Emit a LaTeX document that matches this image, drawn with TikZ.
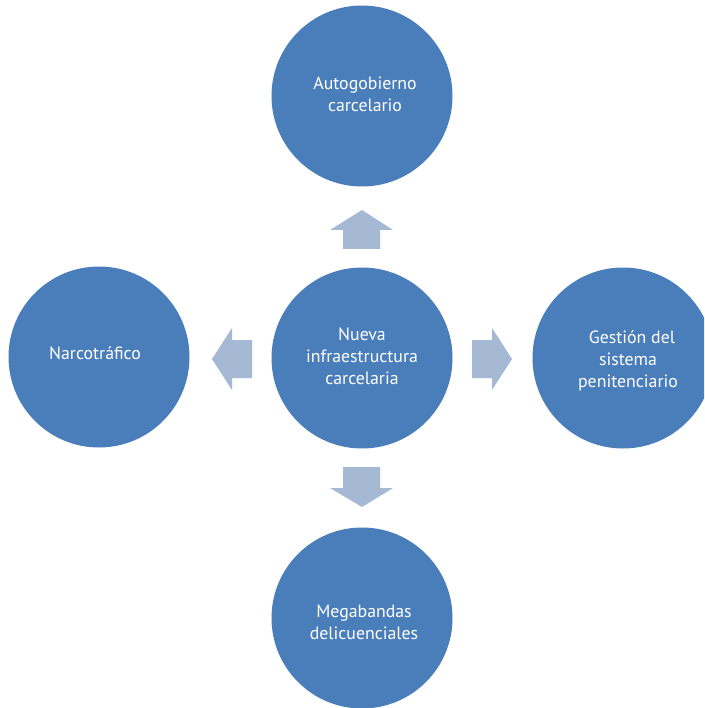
\documentclass[tikz,border=0pt]{standalone}
\usepackage{fontspec}
\setmainfont{PT Sans}
\definecolor{circblue}{HTML}{4A7EBB}
\definecolor{arrowblue}{HTML}{A5B8D4}
\tikzset{
  bubble/.style={circle, fill=circblue, draw=none, minimum size=181pt, inner sep=0pt},
  bubbletext/.style={text=white, align=center, inner sep=0pt, font=\fontsize{17.8}{22}\selectfont},
  blockarrow/.style={fill=arrowblue, draw=none}
}
\begin{document}
\begin{tikzpicture}[x=1pt, y=-1pt]
\useasboundingbox (0,0) rectangle (704,708);
\clip (0,0) rectangle (704,708);
\fill[white] (0,0) rectangle (704,708);
\node[bubble] (center) at (362,358) {};
\node[bubble] (top) at (362,96) {};
\node[bubble] (left) at (99,357) {};
\node[bubble] (right) at (623,358) {};
\node[bubble] (bottom) at (362,618) {};
\node[bubbletext] (tcenter) at (362,356) {Nueva\\infraestructura\\carcelaria};
\node[bubbletext] (ttop) at (365,94) {Autogobierno\\carcelario};
\node[bubbletext] (tleft) at (95,353) {Narcotráfico};
\node[bubbletext] (tright) at (628,361) {\hspace*{8pt}Gestión del\\sistema\\penitenciario};
\node[bubbletext] (tbottom) at (364,622) {Megabandas\\delicuenciales};
% block arrows
\fill[blockarrow] (343,249) -- (343,230) -- (330,230) -- (362,210) -- (393,230) -- (380,230) -- (380,249) -- cycle;
\fill[blockarrow] (343,467) -- (343,488) -- (330,488) -- (362,507) -- (393,488) -- (380,488) -- (380,467) -- cycle;
\fill[blockarrow] (252,340) -- (232,340) -- (232,328) -- (212,359) -- (232,390) -- (232,378) -- (252,378) -- cycle;
\fill[blockarrow] (472,340) -- (492,340) -- (492,328) -- (512,359) -- (492,390) -- (492,378) -- (472,378) -- cycle;
\end{tikzpicture}
\end{document}
